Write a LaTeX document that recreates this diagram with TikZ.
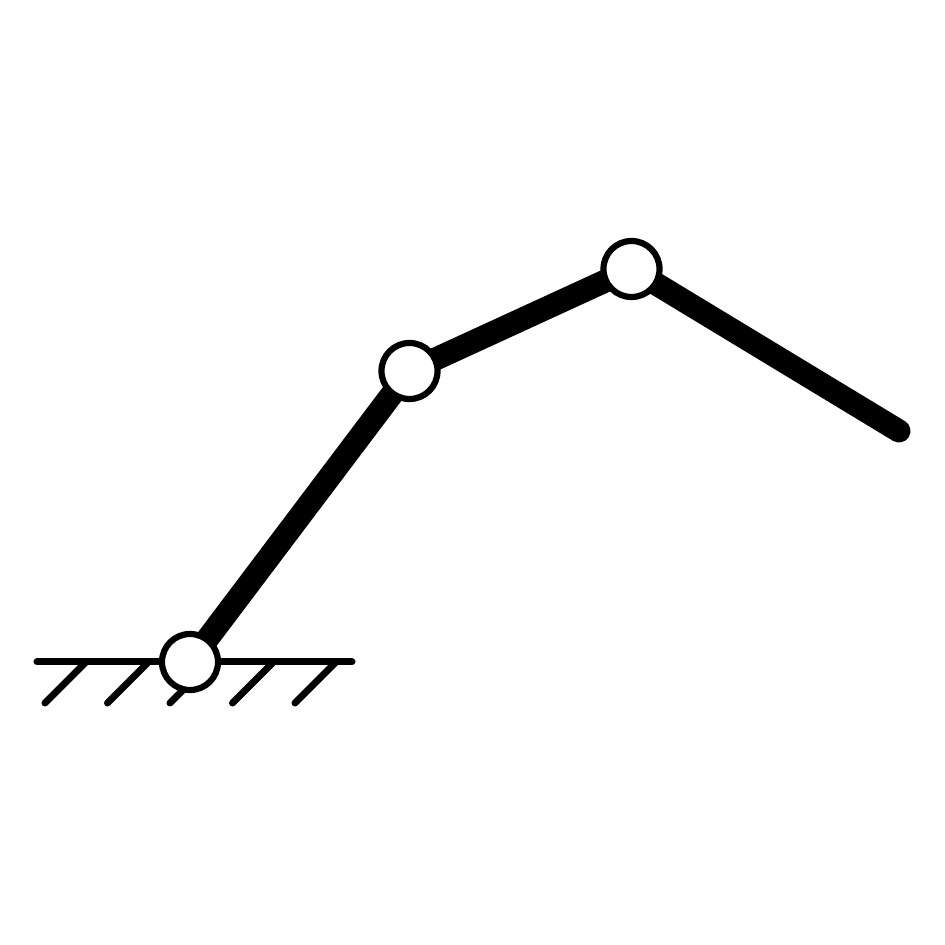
\documentclass[tikz,border=0pt]{standalone}
\usetikzlibrary{positioning}
\tikzset{
    link/.style={
      line width=0.23cm,
      line cap=round},
    ground/.style={
      line width=0.07cm,
      line cap=round},
    joint/.style={
      circle,
      draw=black, line width=0.062cm,
      fill=white,
      inner sep=0pt,
      minimum size=0.56cm},
}
\begin{document}
\begin{tikzpicture}[x=0.01cm,y=0.01cm]
    \useasboundingbox (0,0) rectangle (945,945);
    % positions
    \coordinate (base) at (190,283);
    \coordinate (elbow) at (409.5,574);
    \coordinate (wrist) at (631.5,676);
    \coordinate (tip) at (899,514);
    \coordinate (gl) at (37,283);
    \coordinate (gr) at (352,283);
    % ground
    \draw[ground] (gl) -- (gr);
    \foreach \x in {45,107.5,170,232.5,295} {
      \draw[ground] (\x,242) -- ++(40,40);
    }
    % arm
    \draw[link] (base) -- (elbow);
    \draw[link] (elbow) -- (wrist);
    \draw[link] (wrist) -- (tip);
    \node (j1) [joint] at (base) {};
    \node (j2) [joint] at (elbow) {};
    \node (j3) [joint] at (wrist) {};
\end{tikzpicture}
\end{document}
